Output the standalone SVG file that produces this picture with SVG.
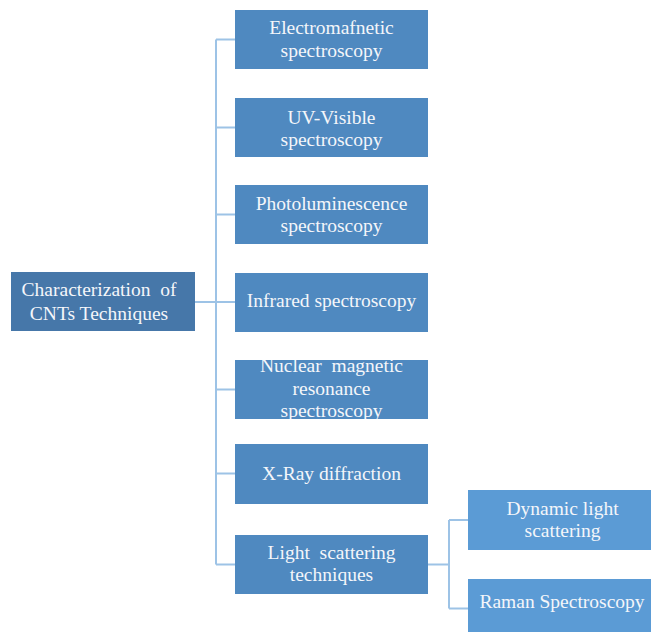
<svg xmlns="http://www.w3.org/2000/svg" width="651" height="632" viewBox="0 0 651 632">
<style>
.root{fill:#4677A9}
.box{fill:#4F89C0}
.sub{fill:#5B9BD5}
text{font-family:"Liberation Serif","Times New Roman",serif;font-size:19.5px;fill:#F4F6FA;text-anchor:middle}
.conn{stroke:#9DC3E6;stroke-width:2;fill:none}
</style>
<defs>
<clipPath id="nmrclip"><rect x="235" y="360" width="193" height="59"/></clipPath>
</defs>
<rect width="651" height="632" fill="#FFFFFF"/>
<g id="connectors">
<path class="conn" d="M195,302 H216 M216,39.5 V564.5 M216,39.5 H235 M216,127.5 H235 M216,214.5 H235 M216,302 H235 M216,389.5 H235 M216,473.5 H235 M216,564.5 H235"/>
<path class="conn" d="M428,564.5 H449 M449,520 V608.5 M449,520 H468 M449,608.5 H468"/>
</g>
<g id="root">
<rect class="root" x="11" y="272" width="184" height="59"/>
<text x="99" y="296" xml:space="preserve">Characterization  of</text>
<text x="99" y="320">CNTs Techniques</text>
</g>
<g id="n1">
<rect class="box" x="235" y="10" width="193" height="59"/>
<text x="331.5" y="34">Electromafnetic</text>
<text x="331.5" y="56.5">spectroscopy</text>
</g>
<g id="n2">
<rect class="box" x="235" y="98" width="193" height="59"/>
<text x="331.5" y="123.5">UV-Visible</text>
<text x="331.5" y="146">spectroscopy</text>
</g>
<g id="n3">
<rect class="box" x="235" y="185" width="193" height="59"/>
<text x="331.5" y="209.5">Photoluminescence</text>
<text x="331.5" y="232">spectroscopy</text>
</g>
<g id="n4">
<rect class="box" x="235" y="273" width="193" height="59"/>
<text x="331.5" y="306.5">Infrared spectroscopy</text>
</g>
<g id="n5">
<rect class="box" x="235" y="360" width="193" height="59"/>
<g clip-path="url(#nmrclip)">
<text x="331.5" y="372" xml:space="preserve">Nuclear  magnetic</text>
<text x="331.5" y="395">resonance</text>
<text x="331.5" y="417">spectroscopy</text>
</g>
</g>
<g id="n6">
<rect class="box" x="235" y="444" width="193" height="60"/>
<text x="331.5" y="480">X-Ray diffraction</text>
</g>
<g id="n7">
<rect class="box" x="235" y="535" width="193" height="59"/>
<text x="331.5" y="559" xml:space="preserve">Light  scattering</text>
<text x="331.5" y="581">techniques</text>
</g>
<g id="s1">
<rect class="sub" x="468" y="490" width="189" height="60"/>
<text x="562.5" y="515">Dynamic light</text>
<text x="562.5" y="537">scattering</text>
</g>
<g id="s2">
<rect class="sub" x="468" y="579" width="189" height="60"/>
<text x="562" y="608">Raman Spectroscopy</text>
</g>
</svg>
